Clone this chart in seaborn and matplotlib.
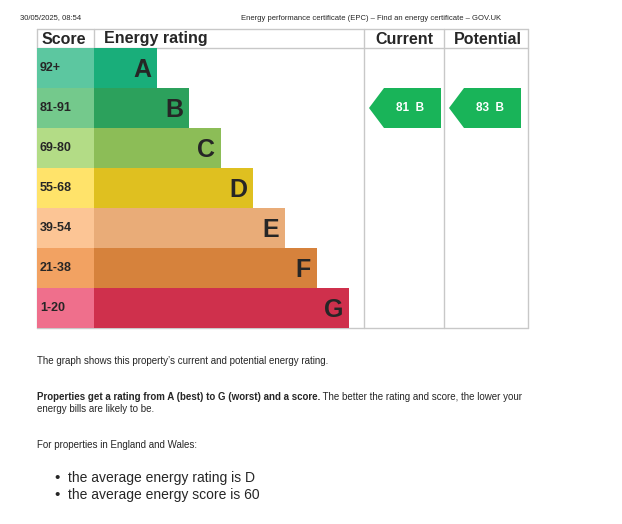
import matplotlib
matplotlib.use("Agg")
import matplotlib.pyplot as plt
import seaborn as sns
from matplotlib.patches import Polygon

ratings = ["A", "B", "C", "D", "E", "F", "G"]
scores = ["92+", "81-91", "69-80", "55-68", "39-54", "21-38", "1-20"]
bar_ends = [157, 189, 221, 253, 285, 317, 349]
bar_colors = ["#00c781", "#19b459", "#8dce46", "#ffd500", "#fcaa65", "#ef8023", "#e9153b"]
score_colors = ["#5cc7a0", "#74c98c", "#b3dc86", "#ffe36a", "#fcc595", "#f2a262", "#ef6f8c"]
current = (81, "B")
potential = (83, "B")

W, H = 622, 524
sns.set_theme(style="white")
plt.rcParams['font.family'] = ['Liberation Sans', 'DejaVu Sans']
fig = plt.figure(figsize=(W / 100, H / 100), dpi=100)

def frac(x0, y0, x1, y1):
    return [x0 / W, 1 - y1 / H, (x1 - x0) / W, (y1 - y0) / H]

# page overlay in pixel coordinates
page = fig.add_axes([0, 0, 1, 1])
page.set_xlim(0, W)
page.set_ylim(H, 0)
page.axis("off")

# bars
axb = fig.add_axes(frac(37, 48, 364, 328))
sns.barplot(x=bar_ends, y=ratings, hue=ratings, palette=bar_colors, orient="h",
            width=1, legend=False, ax=axb, linewidth=0)
axb.barh(range(7), [57] * 7, left=37, height=1, color=score_colors, linewidth=0)
axb.set_xlim(37, 364)
axb.set_ylim(6.5, -0.5)
axb.axis("off")
for i in range(7):
    axb.text(40, i, scores[i], fontsize=9, fontweight="bold", va="center", ha="left")
    axb.text(bar_ends[i] - 6, i + 0.05, ratings[i], fontsize=18, fontweight="bold",
             va="center", ha="right")

# current / potential arrows
axa = fig.add_axes(frac(364, 48, 528, 328))
axa.set_xlim(364, 528)
axa.set_ylim(6.5, -0.5)
axa.axis("off")
for (val, let), x0, x1 in [(current, 369, 441), (potential, 449, 521)]:
    i = ratings.index(let)
    poly = Polygon([(x0, i), (x0 + 15, i - 0.5), (x1, i - 0.5), (x1, i + 0.5), (x0 + 15, i + 0.5)],
                   closed=True, color=bar_colors[i], lw=0)
    axa.add_patch(poly)
    axa.text((x0 + 15 + x1) / 2 - 2, i, f"{val}  {let}", color="white", fontsize=8.5,
             fontweight="bold", ha="center", va="center")

# table lines
grey = "#c8c8c8"
for y in [29, 48, 328]:
    page.plot([37, 528], [y, y], color=grey, lw=1)
for x in [37, 364, 444, 528]:
    page.plot([x, x], [29, 328], color=grey, lw=1)
page.plot([94, 94], [29, 48], color=grey, lw=1)
hdr = dict(fontsize=11.5, fontweight="bold", va="center")
page.text(42, 39, "Score", ha="left", **hdr)
page.text(104, 39, "Energy rating", ha="left", **hdr)
page.text(404, 39, "Current", ha="center", **hdr)
page.text(488, 39, "Potential", ha="center", **hdr)

# page header
page.text(20, 18, "30/05/2025, 08:54", fontsize=5.5, va="center")
page.text(371, 18, "Energy performance certificate (EPC) \u2013 Find an energy certificate \u2013 GOV.UK",
          fontsize=5.5, va="center", ha="center")

# explanatory text
page.text(37, 361, "The graph shows this property\u2019s current and potential energy rating.",
          fontsize=7, va="center")
b = page.text(37, 397, "Properties get a rating from A (best) to G (worst) and a score.",
              fontsize=7, fontweight="bold", va="center")
page.annotate(" The better the rating and score, the lower your", xy=(1, 0.5), xycoords=b,
              fontsize=7, va="center", ha="left")
page.text(37, 409, "energy bills are likely to be.", fontsize=7, va="center")
page.text(37, 445, "For properties in England and Wales:", fontsize=7, va="center")
page.text(54, 478, "\u2022", fontsize=11, va="center")
page.text(68, 478, "the average energy rating is D", fontsize=10, va="center")
page.text(54, 495, "\u2022", fontsize=11, va="center")
page.text(68, 495, "the average energy score is 60", fontsize=10, va="center")

fig.savefig("out.png", dpi=100)
